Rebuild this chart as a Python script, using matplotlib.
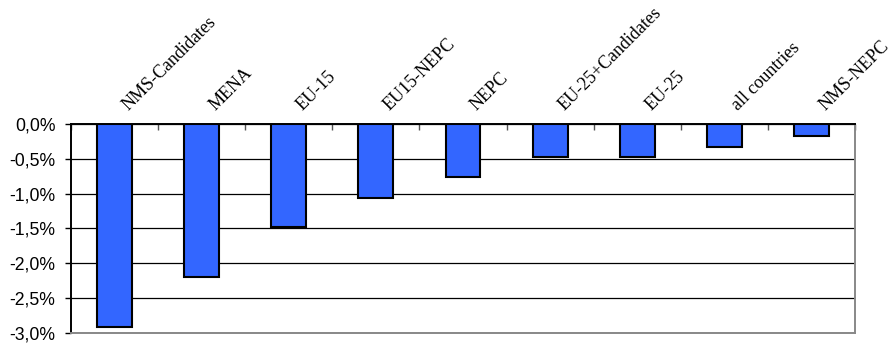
import numpy as np
import matplotlib
matplotlib.use("Agg")
import matplotlib.pyplot as plt
from matplotlib.ticker import FuncFormatter

# groups and change values (in %)
groups = ["NMS-Candidates", "MENA", "EU-15", "EU15-NEPC", "NEPC",
          "EU-25+Candidates", "EU-25", "all countries", "NMS-NEPC"]
change = [-2.91, -2.20, -1.48, -1.06, -0.76, -0.48, -0.48, -0.33, -0.17]

fig = plt.figure(figsize=(8.93, 3.44), dpi=100)
ax = fig.add_axes([0.0795, 0.032, 0.878, 0.608])

x = np.arange(len(groups))
ax.bar(x, change, width=0.4, color="#3366FF", edgecolor="black", linewidth=1.5, zorder=3)

ax.set_xlim(-0.5, len(groups) - 0.5)
ax.set_ylim(-3.0, 0.0)
ax.set_yticks(np.arange(-3.0, 0.01, 0.5))
ax.yaxis.set_major_formatter(FuncFormatter(lambda v, p: ("%.1f%%" % v).replace(".", ",").replace("-0,0", "0,0")))
ax.tick_params(axis="y", direction="out", length=4.3, width=1, pad=7, labelsize=12.7)
for lab in ax.get_yticklabels():
    lab.set_family("Liberation Sans")

ax.grid(axis="y", color="black", linewidth=0.9, zorder=0)

# category axis sits at the top, ticks between groups pointing into the plot
ax.xaxis.set_ticks_position("top")
ax.set_xticks(np.arange(-0.5, len(groups), 1.0))
ax.set_xticklabels([])
ax.tick_params(axis="x", direction="in", length=4.3, width=1, color="#555555")

for i, g in enumerate(groups):
    ax.annotate(g, xy=(i, 0), xytext=(10, 9), textcoords="offset points",
                rotation=45, rotation_mode="anchor", ha="left", va="baseline",
                fontsize=13.0, family="Liberation Serif", annotation_clip=False)

ax.spines["top"].set_color("black")
ax.spines["left"].set_color("black")
ax.spines["right"].set_color("#888888")
ax.spines["bottom"].set_color("#888888")
for s in ax.spines.values():
    s.set_linewidth(1.4)
    s.set_zorder(4)

fig.savefig("out.png", dpi=100)
